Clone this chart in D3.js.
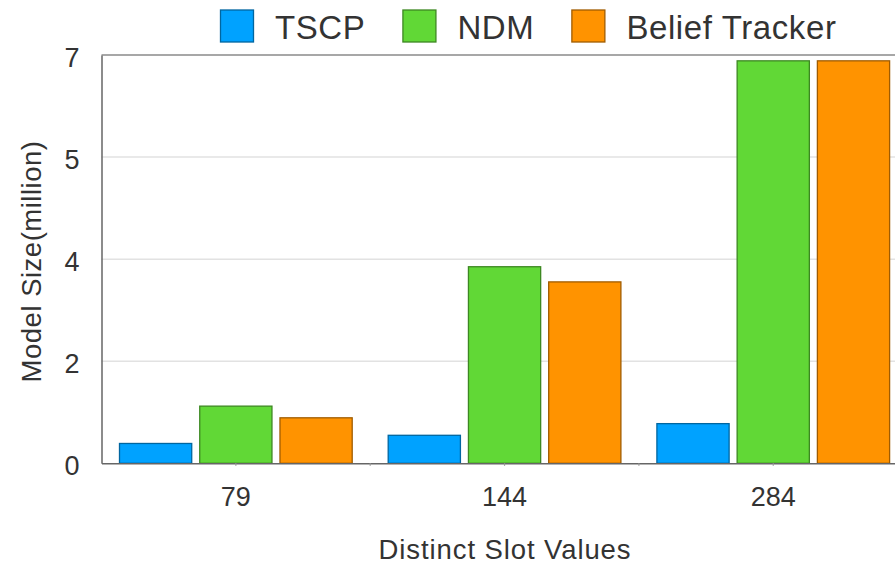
<!DOCTYPE html>
<html>
<head>
<meta charset="utf-8">
<script src="https://cdn.jsdelivr.net/npm/d3@7"></script>
<style>
  body { margin: 0; background: #fff; }
  svg { display: block; overflow: hidden; }
  text { font-family: "Liberation Sans", Arial, Helvetica, sans-serif; fill: #333; }
</style>
</head>
<body>
<div id="chart"></div>
<script>
const categories = ["79", "144", "284"];
const series = ["TSCP", "NDM", "Belief Tracker"];
const tscp = [0.34, 0.48, 0.68];
const ndm = [0.98, 3.37, 6.90];
const beliefTracker = [0.78, 3.11, 6.90];
const yTicks = [0, 1.75, 3.5, 5.25, 7];
const colors = ["#00a2ff", "#61d836", "#ff9300"];

const width = 895, height = 564;
const margin = {left: 101.5, top: 55, bottom: 100.7};
const bandStep = 268.7;
const innerheight = height - margin.top - margin.bottom;

const values = [tscp, ndm, beliefTracker];
const data = categories.map((c, i) => ({
    cat: c,
    vals: series.map((s, j) => ({key: s, value: values[j][i]}))
}));

const svg = d3.select("#chart")
    .append("svg")
    .attr("width", width)
    .attr("height", height);

const x0 = d3.scaleBand()
    .domain(categories)
    .range([margin.left, margin.left + bandStep * categories.length]);

const x1 = d3.scaleBand()
    .domain(series)
    .range([18, bandStep - 18])
    .paddingInner(0.1);

const y = d3.scaleLinear()
    .domain([0, 7])
    .range([margin.top + innerheight, margin.top]);

const color = d3.scaleOrdinal().domain(series).range(colors);

// gridlines
svg.append("g")
    .selectAll("line")
    .data(yTicks.filter(t => t > 0 && t < 7))
    .join("line")
    .attr("x1", margin.left)
    .attr("x2", width)
    .attr("y1", d => y(d))
    .attr("y2", d => y(d))
    .attr("stroke", "#e2e2e2")
    .attr("stroke-width", 1.5);

// top border line
svg.append("line")
    .attr("x1", margin.left).attr("x2", width)
    .attr("y1", y(7)).attr("y2", y(7))
    .attr("stroke", "#8a8a8a")
    .attr("stroke-width", 1.5);

// bars
const groups = svg.append("g")
    .selectAll("g")
    .data(data)
    .join("g")
    .attr("transform", d => `translate(${x0(d.cat)},0)`);

groups.selectAll("rect")
    .data(d => d.vals)
    .join("rect")
    .attr("x", d => x1(d.key))
    .attr("width", x1.bandwidth())
    .attr("y", d => y(d.value))
    .attr("height", d => y(0) - y(d.value))
    .attr("fill", d => color(d.key))
    .attr("stroke", d => d3.color(color(d.key)).darker(1.3))
    .attr("stroke-width", 1.3);

// bottom axis
const bottomAxis = d3.axisBottom(x0).tickSize(0).tickPadding(24);
const gx = svg.append("g")
    .attr("transform", `translate(0,${y(0)})`)
    .call(bottomAxis);
gx.select(".domain").attr("stroke", "#666").attr("stroke-width", 1.5);
gx.selectAll("text").attr("font-size", 27).attr("fill", "#333");

// small tick marks at centers and boundaries
const tickXs = categories.map(c => x0(c) + x0.bandwidth() / 2)
    .concat(categories.slice(1).map(c => x0(c)));
svg.append("g")
    .selectAll("line")
    .data(tickXs)
    .join("line")
    .attr("x1", d => d).attr("x2", d => d)
    .attr("y1", y(0)).attr("y2", y(0) + 2.5)
    .attr("stroke", "#999")
    .attr("stroke-width", 1.2);

// left axis
const leftAxis = d3.axisLeft(y)
    .tickValues(yTicks)
    .tickSize(0)
    .tickPadding(22)
    .tickFormat(d => Math.round(d));
const gy = svg.append("g")
    .attr("transform", `translate(${margin.left},0)`)
    .call(leftAxis);
gy.select(".domain").attr("stroke", "#666").attr("stroke-width", 1.5);
gy.selectAll("text").attr("font-size", 27).attr("fill", "#333").attr("dy", 11);

// axis labels
svg.append("text")
    .text("Distinct Slot Values")
    .attr("x", 505)
    .attr("y", 559)
    .attr("text-anchor", "middle")
    .attr("font-size", 27.5)
    .attr("letter-spacing", 0.9);

svg.append("text")
    .text("Model Size(million)")
    .attr("transform", "translate(41,261.5) rotate(-90)")
    .attr("text-anchor", "middle")
    .attr("font-size", 27.5)
    .attr("letter-spacing", 0.5);

// legend
const legend = svg.append("g").attr("class", "legend");
let lx = 220;
series.forEach((s) => {
    const g = legend.append("g").attr("transform", `translate(${lx},0)`);
    g.append("rect")
        .attr("x", 0.5)
        .attr("y", 10)
        .attr("width", 33)
        .attr("height", 32)
        .attr("fill", color(s))
        .attr("stroke", d3.color(color(s)).darker(1.3))
        .attr("stroke-width", 1.3);
    const t = g.append("text")
        .attr("x", 55)
        .attr("y", 39)
        .attr("font-size", 33)
        .attr("letter-spacing", 0.6)
        .text(s);
    lx += 55 + t.node().getComputedTextLength() + 37;
});
</script>
</body>
</html>
